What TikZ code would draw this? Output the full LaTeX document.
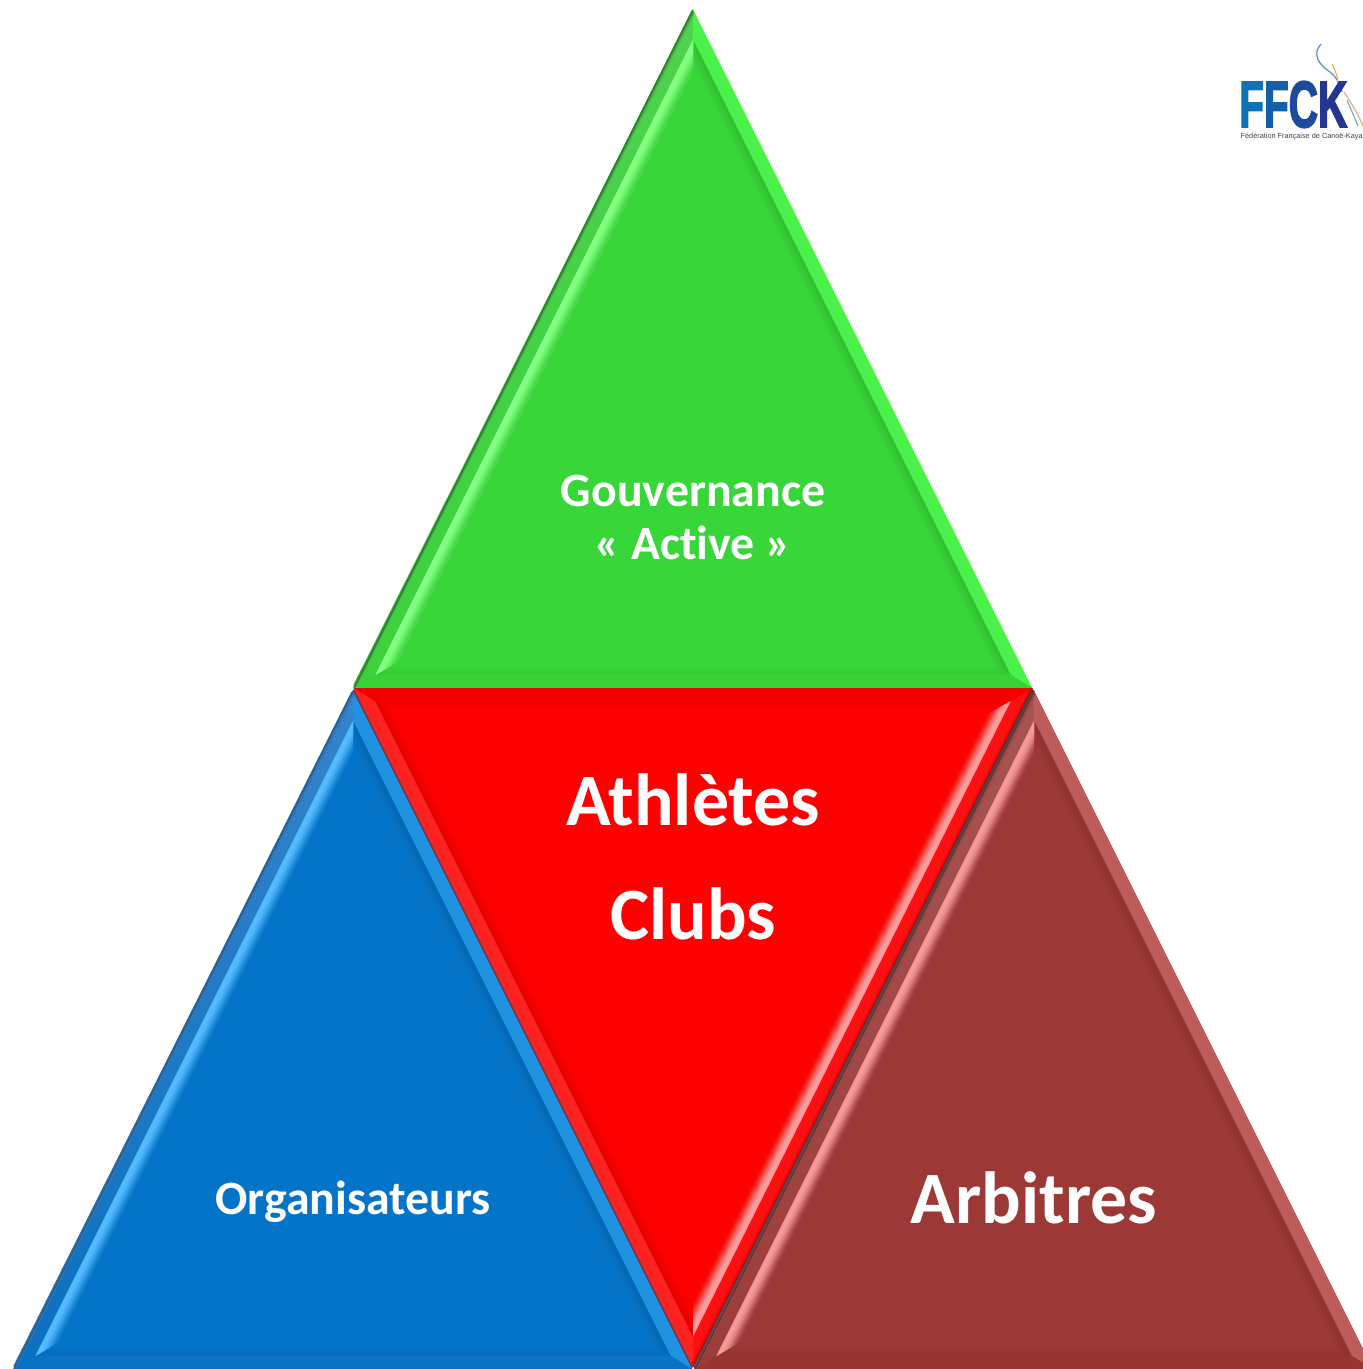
\documentclass[tikz,border=0pt]{standalone}
\usepackage{fontspec}
\usepackage{graphicx}
\setmainfont{Carlito}[Ligatures=CommonOff]
\newfontfamily\logofont[BoldFeatures={FakeBold=3}]{Liberation Sans}
\definecolor{gbase}{HTML}{38D638}\definecolor{gltop}{HTML}{50D250}\definecolor{glbot}{HTML}{3AD23A}
\definecolor{gr}{HTML}{4CF24C}\definecolor{gb}{HTML}{36D236}\definecolor{ghl}{HTML}{84FF84}\definecolor{ge}{HTML}{2F7F2F}
\definecolor{bbase}{HTML}{0474C8}\definecolor{bltop}{HTML}{3484CC}\definecolor{blbot}{HTML}{0A70C0}
\definecolor{br}{HTML}{1F92E4}\definecolor{bb}{HTML}{0A72C2}\definecolor{bhl}{HTML}{52BCFF}\definecolor{be}{HTML}{2A5F8F}
\definecolor{rbase}{HTML}{FF0000}\definecolor{rltop}{HTML}{FF1010}\definecolor{rlbot}{HTML}{FF1010}
\definecolor{rr}{HTML}{FF2020}\definecolor{rb}{HTML}{F20000}\definecolor{rhl}{HTML}{FF9C9C}\definecolor{re}{HTML}{D00000}
\definecolor{abase}{HTML}{9C3836}\definecolor{altop}{HTML}{A85452}\definecolor{albot}{HTML}{9C3C3A}
\definecolor{ar}{HTML}{BE5C5A}\definecolor{ab}{HTML}{983432}\definecolor{ahl}{HTML}{F49A98}\definecolor{ae}{HTML}{5C3634}
\definecolor{logoa}{HTML}{0F72B4}\definecolor{logob}{HTML}{1260A8}\definecolor{logoc}{HTML}{1E4A9C}\definecolor{logod}{HTML}{24368F}
\tikzset{
  labeltext/.style={text=white,inner sep=0pt,anchor=base,font=\bfseries},
  smalltext/.style={labeltext,font=\fontsize{13.6}{16}\selectfont\bfseries},
  bigtext/.style={labeltext,font=\fontsize{21}{24}\selectfont\bfseries},
}
% #1 colour prefix, #2 placement
\newcommand{\bevtri}[2]{%
\begin{scope}[#2]
  \fill[#1base] (0,0) -- (-339,678) -- (339,678) -- cycle;
  \shade[top color=#1ltop,bottom color=#1lbot] (0,0) -- (-339,678) -- (-317.3,664.6) -- (0,30) -- cycle;
  \fill[#1r] (0,0) -- (339,678) -- (317.3,664.6) -- (0,30) -- cycle;
  \fill[#1b] (-339,678) -- (339,678) -- (317.3,664.6) -- (-317.3,664.6) -- cycle;
  \foreach \t/\m in {9/3,6/6,3/10}{
    \fill[#1base!\the\numexpr100-\m\relax!black] (0,30) -- (317.3,664.6) -- ({317.3-1.57*\t},{664.6-0.9*\t}) -- (0,{30+2.236*\t}) -- cycle;
    \fill[#1base!\the\numexpr100-\m/2\relax!black] (-317.3,664.6) -- (317.3,664.6) -- ({317.3-1.57*\t},{664.6-0.9*\t}) -- ({-317.3+1.57*\t},{664.6-0.9*\t}) -- cycle;
  }
  \foreach \t/\m in {14/12,12/30,10/52,8/75,6/92,4/100}{
    \fill[#1hl!\m!#1base] (0,30) -- (-317.3,664.6) -- ({-317.3+1.57*\t},{664.6-0.9*\t}) -- (0,{30+2.236*\t}) -- cycle;
  }
  \draw[#1e!35!#1ltop,line width=1.1pt] (0,2) -- (-338,676);
  \draw[#1e,line width=0.45pt] (0,0) -- (-339,678);
\end{scope}}
\begin{document}
\begin{tikzpicture}[x=0.01cm,y=-0.01cm]
\useasboundingbox (0,0) rectangle (1363,1369);
\begin{scope}
\clip (0,0) rectangle (1363,1369);
\bevtri{g}{shift={(693,10)}}
\bevtri{b}{shift={(353,691)}}
\fill[be!60!re] (353,691) -- (692,1369) -- (693,1366) -- (354,688) -- cycle;
\bevtri{r}{shift={(693,1366)},rotate=180}
\fill[ae] (1032,688) -- (693,1366) -- (695,1369) -- (1034,691) -- cycle;
\bevtri{a}{shift={(1034,691)}}
\node[smalltext] (gouv) at (693,506) {Gouvernance};
\node[smalltext] (active) at (693,559) {« Active »};
\node[bigtext] (athl) at (693,825) {Athlètes};
\node[bigtext] (clubs) at (693,939) {Clubs};
\node[smalltext] (orga) at (353,1214) {Organisateurs};
\node[bigtext] (arb) at (1034,1223) {Arbitres};
% logo
\draw[logob!70!white,line width=0.35pt] (1321,44) .. controls (1312,54) and (1318,64) .. (1330,72) .. controls (1337,78) and (1340,84) .. (1342,92);
\draw[orange!60!brown!70!white,line width=0.3pt] (1332,64) .. controls (1336,72) and (1338,78) .. (1338,84);
\draw[brown!60!white,line width=0.35pt] (1344,92) .. controls (1352,104) and (1358,114) .. (1364,128);
\draw[logob!60!white,line width=0.3pt] (1347,100) .. controls (1351,110) and (1355,118) .. (1358,126);
\node[inner sep=0pt,anchor=base west] (logo) at (1238.5,127) {\smash{\scalebox{.62}[1]{\logofont\bfseries\fontsize{18.6}{20}\selectfont\textcolor{logoa}{F}\textcolor{logob}{F}\textcolor{logoc}{C}\textcolor{logod}{K}}}};
\node[inner sep=0pt,anchor=base west,text=black!75] (logotxt) at (1240,138) {\logofont\fontsize{2.08}{3}\selectfont Fédération Française de Canoë-Kayak};
\end{scope}
\end{tikzpicture}
\end{document}
